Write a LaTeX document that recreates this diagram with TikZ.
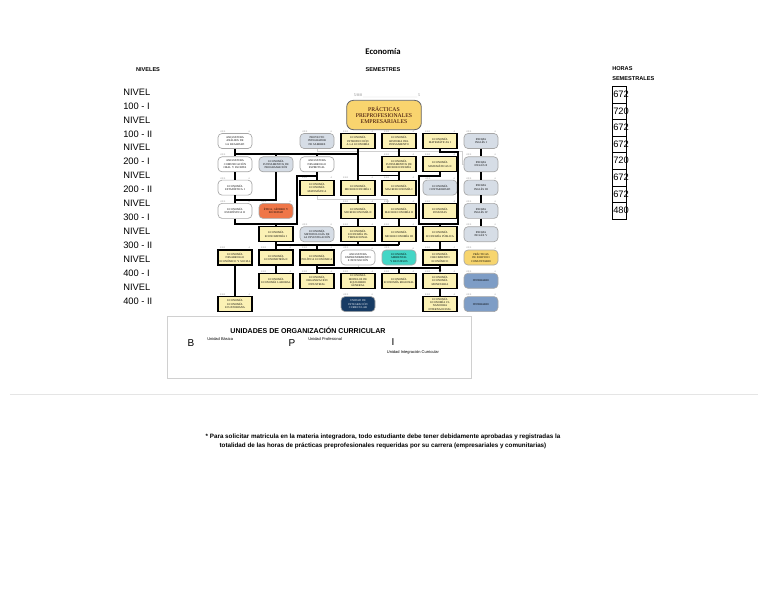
\documentclass[tikz,border=0pt]{standalone}
\usepackage{fontspec}
\setmainfont{Liberation Sans}
\newfontfamily\serifx{Liberation Serif}
\newfontfamily\calib{Carlito}
\usetikzlibrary{calc,arrows.meta}
\definecolor{cyel}{HTML}{FBF1B5}
\definecolor{cgrey}{HTML}{D6DDE6}
\definecolor{corange}{HTML}{EF7648}
\definecolor{cteal}{HTML}{44D6C6}
\definecolor{cgold}{HTML}{F7D56E}
\definecolor{cblue}{HTML}{7E9DC6}
\definecolor{cnavy}{HTML}{173B64}
\definecolor{cprac}{HTML}{F9D46E}
\definecolor{cline}{HTML}{D0D0D0}
\tikzset{
  base/.style={minimum width=25.5pt, minimum height=11.25pt, inner sep=0.5pt, align=center,
    font=\serifx\fontsize{2.1}{2.5}\selectfont, text width=24pt},
  yb/.style={base, rectangle, fill=cyel, draw=black, line width=0.8pt},
  wb/.style={base, rounded corners=3pt, fill=white, draw=gray!70, line width=0.5pt},
  gb/.style={base, rounded corners=3pt, fill=cgrey, draw=gray!70, line width=0.5pt},
  ob/.style={base, rounded corners=3pt, fill=corange, draw=gray!70, line width=0.5pt},
  tb/.style={base, rounded corners=3pt, fill=cteal, draw=gray!70, line width=0.5pt},
  goldb/.style={base, rounded corners=3pt, fill=cgold, draw=gray!70, line width=0.5pt},
  bb/.style={base, rounded corners=3pt, fill=cblue, draw=gray!70, line width=0.5pt},
  nb/.style={base, rounded corners=3pt, fill=cnavy, draw=gray!70, line width=0.5pt, text=white},
  hdr/.style={font=\serifx\fontsize{1.8}{2}\selectfont, text=gray, inner sep=0.3pt},
  conn/.style={draw=black, line width=0.9pt},
  gline/.style={draw=cline, line width=0.6pt},
  lvl/.style={font=\fontsize{7}{8}\selectfont, anchor=west, inner sep=0pt},
  hrs/.style={draw=black, line width=0.7pt, minimum width=10.5pt, minimum height=12.4pt, inner sep=0pt},
  hrt/.style={font=\fontsize{7}{8}\selectfont, anchor=west, inner sep=0pt},
  smallhead/.style={font=\bfseries\fontsize{4.2}{5}\selectfont, inner sep=0pt},
}
\begin{document}
\begin{tikzpicture}[x=0.75pt,y=-0.75pt]
\useasboundingbox (0,0) rectangle (768,594);

% titles
\node[font=\calib\bfseries\fontsize{6.5}{7}\selectfont] (title) at (383,52) {Economía};
\node[smallhead] (hniv) at (148,70) {NIVELES};
\node[smallhead] (hsem) at (383,70) {SEMESTRES};
\node[smallhead, anchor=west] (hhor1) at (612,69) {HORAS};
\node[smallhead, anchor=west] (hhor2) at (612,79) {SEMESTRALES};

% level labels
\foreach \t [count=\i from 0] in {NIVEL,100 - I,NIVEL,100 - II,NIVEL,200 - I,NIVEL,200 - II,NIVEL,300 - I,NIVEL,300 - II,NIVEL,400 - I,NIVEL,400 - II}
  \node[lvl] (lv\i) at (123,{92+13.93*\i}) {\t};

% hours
\foreach \h [count=\i from 0] in {672,720,672,672,720,672,672,480}{
  \node[hrs, anchor=north west] (hb\i) at (612,{86+16.6*\i}) {};
  \node[hrt] (ht\i) at (613,{94.3+16.6*\i}) {\h};
}

% practicas box
\node[rounded corners=5pt, fill=cprac, draw=gray!80!black, line width=0.6pt,
  minimum width=56pt, minimum height=22pt, align=center, inner sep=0pt,
  font=\serifx\fontsize{4.3}{4.8}\selectfont, text=black!70!red!60!black] (prac) at (384,115)
  {PRÁCTICAS\\PREPROFESIONALES\\EMPRESARIALES};
\node[hdr, font=\serifx\fontsize{3}{3}\selectfont] (prh1) at (358,95) {5/8/0};
\node[hdr, font=\serifx\fontsize{3}{3}\selectfont] (prh2) at (419,95) {5};
\draw[gline, line width=0.3pt] (prh1.south east) -- (prh2.south west);

% row 1
\node[wb] (r1A) at (235,141) {ASIGNATURA\\ANÁLISIS DE LA REALIDAD};
\node[gb] (r1C) at (317,141) {PROYECTO\\INTEGRADOR DE SABERES};
\node[yb] (r1D) at (358,141) {ECONOMÍA\\INTRODUCCIÓN A LA ECONOMÍA};
\node[yb] (r1E) at (399,141) {ECONOMÍA\\HISTORIA DEL PENSAMIENTO};
\node[yb] (r1F) at (440,141) {ECONOMÍA\\MATEMÁTICAS I};
\node[gb] (r1G) at (481,141) {IDIOMA\\INGLÉS I};
% row 2
\node[wb] (r2A) at (235,164.3) {ASIGNATURA\\COMUNICACIÓN ORAL Y ESCRITA};
\node[gb] (r2B) at (276,164.3) {ECONOMÍA\\FUNDAMENTOS DE PROGRAMACIÓN};
\node[wb] (r2C) at (317,164.3) {ASIGNATURA\\DESARROLLO ESPIRITUAL};
\node[yb] (r2E) at (399,164.3) {ECONOMÍA\\FUNDAMENTOS DE MICROECONOMÍA};
\node[yb] (r2F) at (440,164.3) {ECONOMÍA\\MATEMÁTICAS II};
\node[gb] (r2G) at (481,164.3) {IDIOMA\\INGLÉS II};
% row 3
\node[wb] (r3A) at (235,187.6) {ECONOMÍA\\ESTADÍSTICA I};
\node[yb] (r3C) at (317,187.6) {ECONOMÍA\\ECONOMÍA MATEMÁTICA};
\node[yb] (r3D) at (358,187.6) {ECONOMÍA\\MICROECONOMÍA I};
\node[yb] (r3E) at (399,187.6) {ECONOMÍA\\MACROECONOMÍA I};
\node[gb] (r3F) at (440,187.6) {ECONOMÍA\\CONTABILIDAD};
\node[gb] (r3G) at (481,187.6) {IDIOMA\\INGLÉS III};
% row 4
\node[wb] (r4A) at (235,210.9) {ECONOMÍA\\ESTADÍSTICA II};
\node[ob] (r4B) at (276,210.9) {ÉTICA, GÉNERO Y\\SOCIEDAD};
\node[yb] (r4D) at (358,210.9) {ECONOMÍA\\MICROECONOMÍA II};
\node[yb] (r4E) at (399,210.9) {ECONOMÍA\\MACROECONOMÍA II};
\node[yb] (r4F) at (440,210.9) {ECONOMÍA\\FINANZAS};
\node[gb] (r4G) at (481,210.9) {IDIOMA\\INGLÉS IV};
% row 5
\node[yb] (r5B) at (276,234.2) {ECONOMÍA\\ECONOMETRÍA I};
\node[gb] (r5C) at (317,234.2) {ECONOMÍA\\METODOLOGÍA DE LA INVESTIGACIÓN};
\node[yb] (r5D) at (358,234.2) {ECONOMÍA\\ECONOMÍA INTERNACIONAL};
\node[yb] (r5E) at (399,234.2) {ECONOMÍA\\MICROECONOMÍA III};
\node[yb] (r5F) at (440,234.2) {ECONOMÍA\\ECONOMÍA PÚBLICA};
\node[gb] (r5G) at (481,234.2) {IDIOMA\\INGLÉS V};
% row 6
\node[yb] (r6A) at (235,257.5) {ECONOMÍA\\DESARROLLO ECONÓMICO Y SOCIAL};
\node[yb] (r6B) at (276,257.5) {ECONOMÍA\\ECONOMETRÍA II};
\node[yb] (r6C) at (317,257.5) {ECONOMÍA\\POLÍTICA ECONÓMICA};
\node[wb] (r6D) at (358,257.5) {ASIGNATURA\\EMPRENDIMIENTO E INNOVACIÓN};
\node[tb] (r6E) at (399,257.5) {ECONOMÍA AMBIENTAL\\Y RECURSOS};
\node[yb] (r6F) at (440,257.5) {ECONOMÍA\\CRECIMIENTO ECONÓMICO};
\node[goldb] (r6G) at (481,257.5) {PRÁCTICAS DE SERVICIO\\COMUNITARIO};
% row 7
\node[yb] (r7B) at (276,280.8) {ECONOMÍA\\ECONOMÍA LABORAL};
\node[yb] (r7C) at (317,280.8) {ECONOMÍA\\ORGANIZACIÓN\\INDUSTRIAL};
\node[yb] (r7D) at (358,280.8) {ECONOMÍA\\MODELOS DE EQUILIBRIO\\GENERAL};
\node[yb] (r7E) at (399,280.8) {ECONOMÍA\\ECONOMÍA REGIONAL};
\node[yb] (r7F) at (440,280.8) {ECONOMÍA\\ECONOMÍA MONETARIA};
\node[bb] (r7G) at (481,280.8) {ITINERARIO};
% row 8
\node[yb] (r8A) at (235,304.1) {ECONOMÍA\\ECONOMÍA ECUATORIANA};
\node[nb] (r8D) at (358,304.1) {UNIDAD DE\\INTEGRACIÓN CURRICULAR};
\node[yb] (r8F) at (440,304.1) {ECONOMÍA\\ECONOMÍA FINANCIERA\\INTERNACIONAL};
\node[bb] (r8G) at (481,304.1) {ITINERARIO};

% headers
\foreach \n in {r1A,r1C,r1D,r1E,r1F,r1G,r2A,r2B,r2C,r2E,r2F,r2G,r3A,r3C,r3D,r3E,r3F,r3G,
  r4A,r4B,r4D,r4E,r4F,r4G,r5B,r5C,r5D,r5E,r5F,r5G,r6A,r6B,r6C,r6D,r6E,r6F,r6G,
  r7B,r7C,r7D,r7E,r7F,r7G,r8A,r8D,r8F,r8G}{
  \node[hdr, anchor=south west] (\n-hl) at ([xshift=1.5pt]\n.north west) {2/2/0};
  \node[hdr, anchor=south east] (\n-hr) at ([xshift=-1.5pt]\n.north east) {4};
}

% bus coordinates
\coordinate (b1) at (0,154);
\coordinate (b2) at (0,175.5);
\coordinate (b4) at (0,200);
\coordinate (b5) at (0,224);
\coordinate (b6) at (0,245);
\coordinate (b7) at (0,268);
\coordinate (f1) at (458,152);
\coordinate (f3) at (419,176);
\coordinate (c1) at (297,176);
\coordinate (gy1) at (387,199);
\coordinate (gy2) at (462,151);

% grey connectors
\draw[gline] (r1C.south) |- (gy2) |- (r2G.west);
\draw[gline] (r3C.south) |- (gy1) -- (gy1 |- r4E.north);
\draw[gline] (r6C.south) -- ++(0,3) -| (r6D.south);

% black connectors
\draw[conn] (r1A.south) -- (r2A.north);
\draw[conn] (r1A.south |- b1) -- (r1D.south |- b1);
\draw[conn] (r2B.north |- b1) -- (r2B.north);
\draw[conn] (r2C.north |- b1) -- (r2C.north);
\draw[conn] (r1D.south) -- (r3D.north);
\draw[conn] (r1E.south) -- (r2E.north);
\draw[conn] (r2E.south) -- (r3E.north);
\draw[conn] (r2E.south |- b2) -- (r3D.north |- b2);
\draw[conn] (r1F.south) |- (f1) -- (f1 |- b5) -| (r5F.north);
\draw[conn] (r2F.south) |- (f3) -- (f3 |- b5) -- (r5F.north |- b5);
\draw[conn] (r1G) -- (r2G);
\draw[conn] (r2G) -- (r3G);
\draw[conn] (r3G) -- (r4G);
\draw[conn] (r4G) -- (r5G);
\draw[conn] (r2A) -- (r3A);
\draw[conn] (r3A) -- (r4A);
\draw[conn] (r2B.south) |- (r4A.north |- b4) -- (r4A.north);
\draw[conn] (r4A.south) |- (r5B.north |- b5) -- (r5B.north);
\draw[conn] (r2C.south) |- (c1) |- (r5B.north |- b5);
\draw[conn] (r2C) -- (r3C);
\draw[conn] (r3D) -- (r4D);
\draw[conn] (r4D) -- (r5D);
\draw[conn] (r3E) -- (r4E);
\draw[conn] (r4E) -- (r5E);
\draw[conn] (r5B) -- (r6B);
\draw[conn] (r5D.south) -- (r5D.south |- b6);
\draw[conn] (r5B.south |- b6) -- (r5E.south |- b6);
\draw[conn] (r5E.south) -- (r5E.south |- b6);
\draw[conn] (r6C.north |- b6) -- (r6C.north);
\draw[conn] (r5F) -- (r6F);
\draw[conn] (r6B) -- (r7B);
\draw[conn] (r6C) -- (r7C);
\draw[conn] (r7C.north |- b7) -- (r7F.north |- b7);
\draw[conn] (r7E.north |- b7) -- (r7E.north);
\draw[conn, -{Latex[length=2pt,width=2pt]}] (r6F.south) -- (r7F.north);
\draw[conn] (r7F) -- (r8F);
\draw[conn] (r6A) -- (r8A);

% legend
\node[draw=cline, line width=0.6pt, minimum width=228pt, minimum height=46.5pt, inner sep=0pt, anchor=north west] (leg) at (167,316) {};
\node[smallhead, font=\bfseries\fontsize{5.3}{6}\selectfont] (legt) at (308,330) {UNIDADES DE ORGANIZACIÓN CURRICULAR};
\node[font=\fontsize{7.5}{8}\selectfont, inner sep=0pt] (lB) at (191,343) {B};
\node[font=\fontsize{3}{3.5}\selectfont, anchor=west, inner sep=0pt] (lBt) at (207,339) {Unidad Básica};
\node[font=\fontsize{7.5}{8}\selectfont, inner sep=0pt] (lP) at (292,343) {P};
\node[font=\fontsize{3}{3.5}\selectfont, anchor=west, inner sep=0pt] (lPt) at (308,339) {Unidad Profesional};
\node[font=\fontsize{7.5}{8}\selectfont, inner sep=0pt] (lI) at (393,342) {I};
\node[font=\fontsize{3}{3.5}\selectfont, inner sep=0pt] (lIt) at (413,352) {Unidad Integración Curricular};

% separator
\coordinate (s1) at (10,394);
\coordinate (s2) at (758,394);
\draw[draw=black!10, line width=0.6pt] (s1) -- (s2);

% footnote
\node[font=\bfseries\fontsize{4.7}{6.8}\selectfont, align=center, inner sep=0pt] (foot) at (383,441.5)
  {* Para solicitar matricula en la materia integradora, todo estudiante debe tener debidamente aprobadas y registradas la\\
   totalidad de las horas de prácticas preprofesionales requeridas por su carrera (empresariales y comunitarias)};
\end{tikzpicture}
\end{document}
